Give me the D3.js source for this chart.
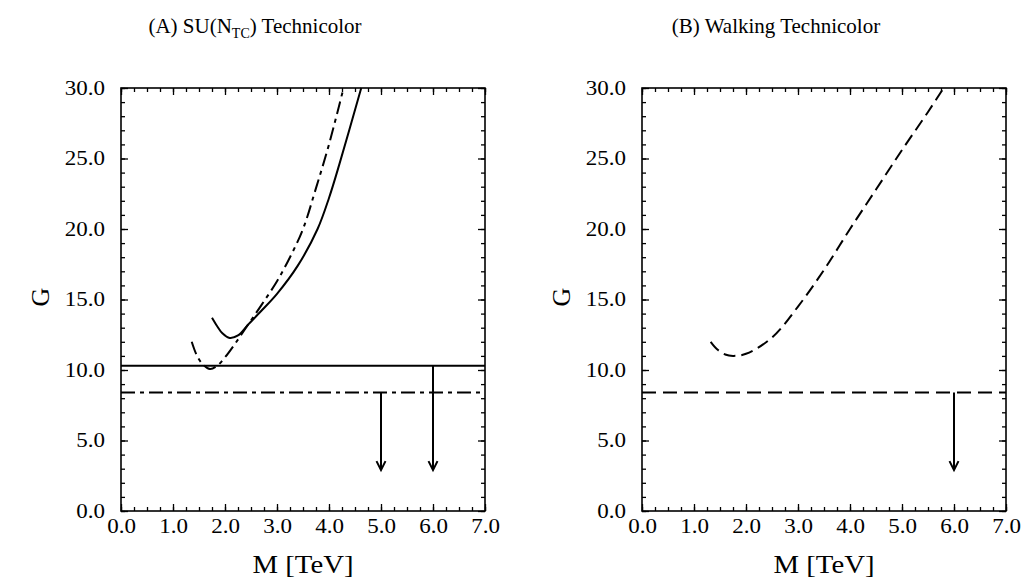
<!DOCTYPE html>
<html>
<head>
<meta charset="utf-8">
<script src="https://cdn.jsdelivr.net/npm/d3@7"></script>
<style>
  body { margin: 0; background: #fff; }
  text { font-family: "Liberation Serif", "Times New Roman", serif; fill: #000; }
</style>
</head>
<body>
<div id="chart"></div>
<script>
// Panel A: SU(N_TC) technicolor
var solidM = [1.75, 1.85, 1.95, 2.09, 2.25, 2.44, 2.7, 3.0, 3.4, 3.78, 4.0, 4.2, 4.62];
var solidG = [13.7, 13.1, 12.6, 12.27, 12.45, 13.2, 14.2, 15.4, 17.4, 20.0, 22.2, 24.6, 30.0];
var dashDotM = [1.36, 1.45, 1.55, 1.71, 1.85, 2.0, 2.2, 2.44, 2.7, 3.0, 3.25, 3.5, 3.75, 4.0, 4.28];
var dashDotG = [12.0, 11.1, 10.5, 10.07, 10.3, 10.9, 11.9, 13.2, 14.6, 16.3, 18.0, 20.0, 22.9, 26.0, 30.0];
var limitSolidA = 10.3;
var limitDashDotA = 8.4;
var arrowsA = [{ m: 5.0, from: 8.4, to: 2.9 }, { m: 6.0, from: 10.3, to: 2.9 }];

// Panel B: walking technicolor
var walkM = [1.32, 1.45, 1.6, 1.75, 2.0, 2.5, 3.0, 3.5, 4.0, 4.5, 5.0, 5.5, 5.8];
var walkG = [12.0, 11.45, 11.1, 11.0, 11.15, 12.3, 14.5, 17.1, 20.0, 22.8, 25.6, 28.3, 30.0];
var limitB = 8.4;
var arrowsB = [{ m: 6.0, from: 8.4, to: 2.9 }];

var xTicks = [0, 1, 2, 3, 4, 5, 6, 7];
var yTicks = [0, 5, 10, 15, 20, 25, 30];

var w = 1028, h = 584;
var svg = d3.select("#chart").append("svg").attr("width", w).attr("height", h);

function zip(a, b) { return a.map(function(v, i) { return [v, b[i]]; }); }

// widen text glyphs a bit (the original lettering is wider than Times)
function stretch(sel, k) {
    sel.each(function() {
        var len = this.getComputedTextLength();
        if (len > 0) d3.select(this).attr("textLength", len * k).attr("lengthAdjust", "spacingAndGlyphs");
    });
}

function panel(left, title, titleX, draw) {
    var x = d3.scaleLinear().domain([0, 7]).range([left, left + 364]);
    var y = d3.scaleLinear().domain([0, 30]).range([511, 88]);
    var g = svg.append("g");

    var minorX = d3.range(0, 7.001, 0.25);
    var minorY = d3.range(0, 30.001, 1);

    function axes(gen, scale, pos, major, minor, labels, pad) {
        g.append("g").attr("transform", pos)
            .call(gen(scale).tickValues(minor).tickSize(-4).tickFormat(""))
            .call(function(s) { s.select(".domain").remove(); });
        var a = g.append("g").attr("transform", pos)
            .call(gen(scale).tickValues(major).tickSize(-7).tickPadding(pad)
                .tickFormat(labels ? d3.format(".1f") : ""));
        a.select(".domain").remove();
        a.attr("font-family", null).attr("font-size", null);
        a.selectAll("text").style("font-size", "20px").call(stretch, 1.15);
        g.selectAll("line").attr("stroke-width", 1.3);
    }
    axes(d3.axisBottom, x, "translate(0,511)", xTicks, minorX, true, 8);
    axes(d3.axisTop, x, "translate(0,88)", xTicks, minorX, false, 8);
    axes(d3.axisLeft, y, "translate(" + left + ",0)", yTicks, minorY, true, 16);
    axes(d3.axisRight, y, "translate(" + (left + 364) + ",0)", yTicks, minorY, false, 8);

    g.append("rect").attr("x", left).attr("y", 88).attr("width", 364).attr("height", 423)
        .attr("fill", "none").attr("stroke", "#000").attr("stroke-width", 1.6);

    var t = g.append("text").attr("x", titleX).attr("y", 33).attr("text-anchor", "middle")
        .style("font-size", "21px");
    title(t);

    g.append("text").attr("x", left + 182).attr("y", 573).attr("text-anchor", "middle")
        .style("font-size", "25px").text("M [TeV]").call(stretch, 1.15);
    g.append("text").attr("transform", "translate(" + (left - 72) + ",297) rotate(-90)")
        .attr("text-anchor", "middle").style("font-size", "26px").text("G");

    var plot = g.append("g");
    draw(plot, x, y);
}

var line = function(x, y) {
    return d3.line().x(function(d) { return x(d[0]); }).y(function(d) { return y(d[1]); })
        .curve(d3.curveCatmullRom);
};

function hline(p, x, y, v, dash) {
    p.append("line").attr("x1", x(0)).attr("x2", x(7)).attr("y1", y(v)).attr("y2", y(v))
        .attr("stroke", "#000").attr("stroke-width", 2).attr("stroke-dasharray", dash);
}

function arrow(p, x, y, a) {
    var xx = x(a.m), y1 = y(a.from), y2 = y(a.to);
    p.append("line").attr("x1", xx).attr("x2", xx).attr("y1", y1).attr("y2", y2)
        .attr("stroke", "#000").attr("stroke-width", 2);
    p.append("path").attr("d", "M" + (xx - 4.5) + "," + (y2 - 9) + "L" + xx + "," + y2 + "L" + (xx + 4.5) + "," + (y2 - 9))
        .attr("fill", "none").attr("stroke", "#000").attr("stroke-width", 2);
}

panel(121, function(t) {
    t.append("tspan").text("(A) SU(N");
    t.append("tspan").attr("dy", 5).style("font-size", "14px").text("TC");
    t.append("tspan").attr("dy", -5).text(") Technicolor");
}, 255, function(p, x, y) {
    p.append("path").attr("d", line(x, y)(zip(solidM, solidG)))
        .attr("fill", "none").attr("stroke", "#000").attr("stroke-width", 2);
    p.append("path").attr("d", line(x, y)(zip(dashDotM, dashDotG)))
        .attr("fill", "none").attr("stroke", "#000").attr("stroke-width", 2)
        .attr("stroke-dasharray", "13,5,4,5");
    hline(p, x, y, limitSolidA, null);
    hline(p, x, y, limitDashDotA, "14,5,4,5");
    arrowsA.forEach(function(a) { arrow(p, x, y, a); });
});

panel(642, function(t) {
    t.text("(B) Walking Technicolor");
}, 776, function(p, x, y) {
    p.append("path").attr("d", line(x, y)(zip(walkM, walkG)))
        .attr("fill", "none").attr("stroke", "#000").attr("stroke-width", 2)
        .attr("stroke-dasharray", "12,6");
    hline(p, x, y, limitB, "14,7");
    arrowsB.forEach(function(a) { arrow(p, x, y, a); });
});
</script>
</body>
</html>
